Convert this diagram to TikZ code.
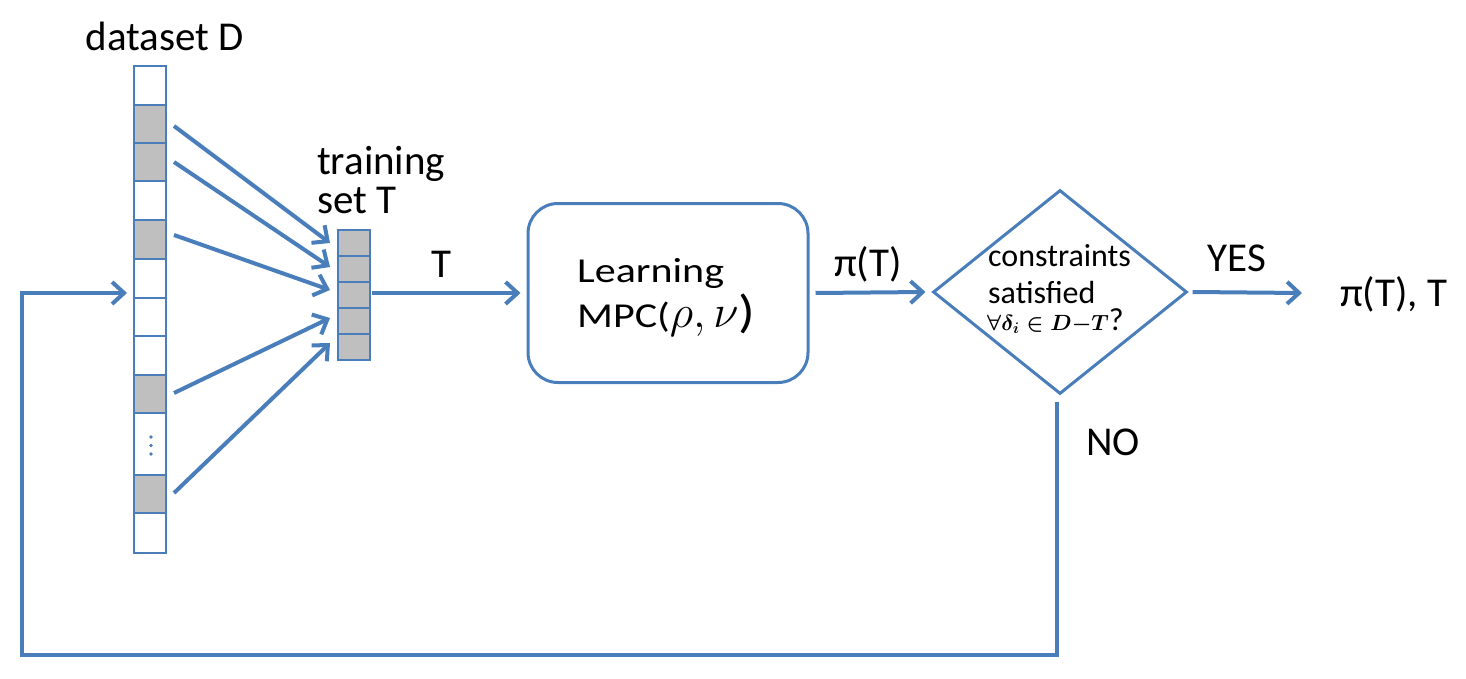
\RequirePackage{fix-cm}
\documentclass[tikz,border=0pt]{standalone}
\usepackage{fontspec}
\setmainfont{Carlito}
\newfontfamily\boxfont[FakeStretch=1.2]{Carlito}
\usetikzlibrary{arrows.meta,shapes.geometric,calc}
\definecolor{lblue}{RGB}{74,126,187}
\definecolor{cellgray}{RGB}{191,191,191}
\begin{document}
\begin{tikzpicture}[x=1pt,y=-1pt,
  flow/.style={draw=lblue,line width=4pt,-{Straight Barb[length=12pt,width=22pt]}},
  dcell/.style={draw=lblue,line width=2.5pt,minimum width=32pt,inner sep=0pt,outer sep=0pt,fill=white},
  gcell/.style={dcell,fill=cellgray},
  big/.style={font=\fontsize{41}{49}\selectfont,text=black,inner sep=0pt},
  mid/.style={font=\fontsize{32}{38}\selectfont,text=black,inner sep=0pt,anchor=base west},
  boxtxt/.style={font=\boxfont\fontsize{35}{42}\selectfont,text=black,inner sep=0pt,anchor=base west}]
\useasboundingbox (0,0) rectangle (1466,679);
% dataset column
\node[dcell,minimum height=39pt] (d1) at (150,85.5) {};
\node[gcell,minimum height=38pt] (d2) at (150,124) {};
\node[gcell,minimum height=38pt] (d3) at (150,162) {};
\node[dcell,minimum height=39pt] (d4) at (150,200.5) {};
\node[gcell,minimum height=39pt] (d5) at (150,239.5) {};
\node[dcell,minimum height=39pt] (d6) at (150,278.5) {};
\node[dcell,minimum height=38pt] (d7) at (150,317) {};
\node[dcell,minimum height=39pt] (d8) at (150,355.5) {};
\node[gcell,minimum height=38pt] (d9) at (150,394) {};
\node[dcell,minimum height=62pt] (d10) at (150,444) {};
\node[gcell,minimum height=38pt] (d11) at (150,494) {};
\node[dcell,minimum height=40pt] (d12) at (150,533) {};
\fill[lblue] (151,437) circle (1.8pt) (151,445.5) circle (1.8pt) (151,454) circle (1.8pt);
\node[big] (dlabel) at (165,36) {dataset D};
% training set
\node[gcell,minimum height=26pt] (t1) at (354,243) {};
\node[gcell,minimum height=26pt] (t2) at (354,269) {};
\node[gcell,minimum height=26pt] (t3) at (354,295) {};
\node[gcell,minimum height=26pt] (t4) at (354,321) {};
\node[gcell,minimum height=26pt] (t5) at (354,347) {};
\node[big,anchor=base west] (tlabel1) at (317,175) {training};
\node[big,anchor=base west] (tlabel2) at (317,213) {set T};
% selection arrows
\draw[flow] ($(d2.east)+(8,2)$) -- ($(t1.west)+(-8,0)$);
\draw[flow] ($(d3.east)+(8,0)$) -- ($(t2.west)+(-8,-2)$);
\draw[flow] ($(d5.east)+(8,-4.5)$) -- ($(t3.west)+(-8,-5)$);
\draw[flow] ($(d9.east)+(8,-1)$) -- ($(t4.west)+(-8,-3)$);
\draw[flow] ($(d11.east)+(8,-1)$) -- ($(t5.west)+(-8,-4)$);
% learning box
\node[draw=lblue,line width=3pt,rounded corners=30pt,minimum width=280pt,minimum height=179pt,inner sep=0pt] (box) at (668,293) {};
\node[boxtxt] (boxtext1) at (577,282) {Learning};
\node[boxtxt] (boxtext2) at (577,327) {MPC(\fontsize{46}{49}\selectfont$\rho,\nu$)};
% decision diamond
\node[diamond,draw=lblue,line width=3pt,minimum width=254pt,minimum height=204pt,inner sep=0pt] (dia) at (1060,292) {};
\node[mid] (diatext1) at (988,266) {constraints};
\node[mid] (diatext2) at (988,303) {satisfied};
\node[mid] (diatext3) at (987,330) {{\fontsize{22}{26}\selectfont\boldmath$\forall\delta_i\in D{-}T$}?};
% main flow arrows
\draw[flow] ($(t3.east)+(2,-2)$) -- ($(box.west)+(-6,0)$);
\node[big] (lT) at (441,264) {T};
\draw[flow] ($(box.east)+(6,0)$) -- ($(dia.west)+(-6,0)$);
\node[big] (lpi) at (868,264) {π(T)};
\node[big,anchor=west] (res) at (1340,294) {π(T), T};
\draw[flow] ($(dia.east)+(4,0)$) -- ($(res.west)+(-38,-1)$);
\node[big] (lyes) at (1237,258) {YES};
\node[big] (lno) at (1113,442) {NO};
% feedback loop
\coordinate (fbl) at (22,655);
\draw[flow] ($(dia.south)+(-3,6)$) |- (fbl) |- ($(d6.west)+(-7,14.5)$);
\end{tikzpicture}
\end{document}
